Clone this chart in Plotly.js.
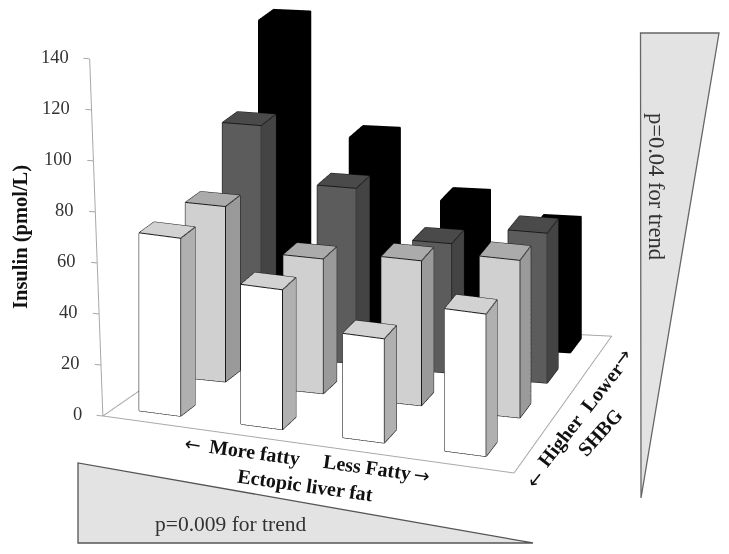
<!DOCTYPE html>
<html><head><meta charset="utf-8">
<script src="https://cdn.plot.ly/plotly-3.0.1.min.js"></script>
<style>html,body{margin:0;padding:0;background:#fff}#c{width:729px;height:554px}</style></head>
<body><div id="c"></div>
<script>
// Insulin (pmol/L) by ectopic liver fat (columns) and SHBG (rows)
const rowHigher = [70, 55, 41, 56];
const rowMid = [69, 53, 57, 62];
const rowLowerMid = [90, 69, 51, 59];
const rowLower = [120, 77, 55.5, 48];
const zTicks = [0, 20, 40, 60, 80, 100, 120, 140];

const rows = [
  {vals: rowHigher, front: '#ffffff', side: '#b0b0b0', top: '#d2d2d2', edge: '#1a1a1a'},
  {vals: rowMid, front: '#d0d0d0', side: '#9a9a9a', top: '#ababab', edge: '#1a1a1a'},
  {vals: rowLowerMid, front: '#5c5c5c', side: '#444444', top: '#4a4a4a', edge: '#1a1a1a'},
  {vals: rowLower, front: '#000000', side: '#000000', top: '#000000', edge: '#000000'}
];
// floor plane quad, used to mimic the perspective of the original
const FL=[0,0], FR=[1.098,-0.135], BL=[0.098,0.866], BR=[1,1];
function warp(u,v){
  return [0,1].map(k=>(1-u)*(1-v)*FL[k]+u*(1-v)*FR[k]+(1-u)*v*BL[k]+u*v*BR[k]);
}
const vOffL=[0,0.07,0.07,0.07], vOffR=[0,0.02,0.015,-0.03], uOff=[0,0.012,0.015,0.016];
const uBase=i=>0.11+0.25*i;
const uC=(i,j)=>uBase(i)+uOff[j]*uBase(i);
const vC=(i,j)=>0.14+0.265*j+vOffL[j]*(1-uBase(i))+vOffR[j]*uBase(i);
const hw=0.051, hd=0.054;
const traces=[];
rows.forEach((r,j)=>{
  const X=[],Y=[],Z=[],I=[],J=[],K=[],F=[],ex=[],ey=[],ez=[];
  r.vals.forEach((val,i)=>{
    const b=X.length;
    const c=[[-1,-1],[1,-1],[1,1],[-1,1]].map(s=>warp(uC(i,j)+s[0]*hw,vC(i,j)+s[1]*hd));
    [0,val].forEach(z=>c.forEach(p=>{X.push(p[0]);Y.push(p[1]);Z.push(z);}));
    const quad=(a,bb,cc,d,col)=>{I.push(b+a,b+a);J.push(b+bb,b+cc);K.push(b+cc,b+d);F.push(col,col);};
    quad(0,1,5,4,r.front); quad(1,2,6,5,r.side); quad(4,5,6,7,r.top); quad(3,0,4,7,r.side); quad(2,3,7,6,r.front);
    const seg=(a,bb)=>{ex.push(X[b+a],X[b+bb],null);ey.push(Y[b+a],Y[b+bb],null);ez.push(Z[b+a],Z[b+bb],null);};
    [[0,1],[1,2],[4,5],[5,6],[6,7],[7,4],[0,4],[1,5],[2,6]].forEach(s=>seg(s[0],s[1]));
  });
  traces.push({type:'mesh3d',x:X,y:Y,z:Z,i:I,j:J,k:K,facecolor:F,flatshading:true,hoverinfo:'skip',showscale:false,
    lighting:{ambient:1,diffuse:0,specular:0,fresnel:0,roughness:1},lightposition:{x:0,y:0,z:1000}});
  traces.push({type:'scatter3d',mode:'lines',x:ex,y:ey,z:ez,line:{color:r.edge,width:2},hoverinfo:'skip',showlegend:false});
});
// floor outline
const grey='#a8a8a8';
traces.push({type:'scatter3d',mode:'lines',x:[FL[0],FR[0],BR[0],BL[0],FL[0]],y:[FL[1],FR[1],BR[1],BL[1],FL[1]],z:[0,0,0,0,0],
  line:{color:grey,width:2},hoverinfo:'skip',showlegend:false});
// z axis with slight lean
const lean=z=>-0.034*z/140;
traces.push({type:'scatter3d',mode:'lines',x:zTicks.map(lean),y:zTicks.map(()=>0),z:zTicks,line:{color:grey,width:2},hoverinfo:'skip',showlegend:false});
const tx=[],ty=[],tz=[];
zTicks.forEach(t=>{tx.push(lean(t),lean(t)-0.016,null);ty.push(0,0,null);tz.push(t,t,null);});
traces.push({type:'scatter3d',mode:'lines',x:tx,y:ty,z:tz,line:{color:grey,width:2},hoverinfo:'skip',showlegend:false});

const serif='"Liberation Serif","Times New Roman",serif';
const hidden={visible:false,showgrid:false,zeroline:false,showticklabels:false};
const a=17.4*Math.PI/180,e=17.9*Math.PI/180,r=1.39,S=1.44;
const px=(x,y)=>(x/729).toFixed(4)+' '+(1-y/554).toFixed(4);
const layout={width:729,height:554,margin:{l:0,r:0,t:0,b:0},paper_bgcolor:'#fff',showlegend:false,
 scene:{domain:{x:[0,1],y:[0,1]},aspectmode:'manual',aspectratio:{x:S*1.3*409/400,y:S*1.3*401/400,z:S*375/400},
  xaxis:Object.assign({range:[-0.15,1.15]},hidden),yaxis:Object.assign({range:[-0.2,1.1]},hidden),zaxis:Object.assign({range:[0,140]},hidden),
  camera:{projection:{type:'orthographic'},up:{x:0,y:0,z:1},center:{x:0.05,y:0,z:-0.272},
    eye:{x:0.05+r*Math.sin(a)*Math.cos(e),y:-r*Math.cos(a)*Math.cos(e),z:-0.272+r*Math.sin(e)}},
  annotations:zTicks.map(t=>({x:lean(t)-0.049,y:0,z:t,text:String(t),showarrow:false,xanchor:'right',font:{family:serif,size:18.5,color:'#333'}}))
 },
 shapes:[
  {type:'path',xref:'paper',yref:'paper',path:'M '+px(78,463)+' L '+px(78,543)+' L '+px(533,543)+' Z',fillcolor:'#e3e3e3',line:{color:'#555',width:1.3}},
  {type:'path',xref:'paper',yref:'paper',path:'M '+px(640.5,33)+' L '+px(719,33)+' L '+px(641,498)+' Z',fillcolor:'#e3e3e3',line:{color:'#666',width:1.3}}
 ],
 annotations:[]
};
const txt=(t,x,y,rot,size,bold,col,fam)=>({xref:'paper',yref:'paper',x:x/729,y:1-y/554,text:bold?'<b>'+t+'</b>':t,showarrow:false,textangle:rot,xanchor:'center',yanchor:'middle',
  font:{family:fam||serif,size:size,color:col||'#111'}});
const arrow='"DejaVu Sans"';
layout.annotations=[
 txt('Insulin (pmol/L)',21,237,-90,20.5,true),
 txt('←',193,444,8,19,false,'#111',arrow),
 txt('More fatty',254,452,8,20,true),
 txt('Less Fatty',367,467,8,20,true),
 txt('→',422,475,8,19,false,'#111',arrow),
 txt('Ectopic liver fat',305,485,8,20,true),
 txt('Higher  Lower',580,415,-52,20,true),
 txt('→',622,357,-52,19,false,'#111',arrow),
 txt('←',535,479,-52,19,false,'#111',arrow),
 txt('SHBG',600,432,-48,20,true),
 txt('p=0.009 for trend',230,524,0,21.5,false,'#333'),
 txt('p=0.04 for trend',657,186,90,22.5,false,'#333')
];
Plotly.newPlot('c',traces,layout,{displayModeBar:false});
</script></body></html>
